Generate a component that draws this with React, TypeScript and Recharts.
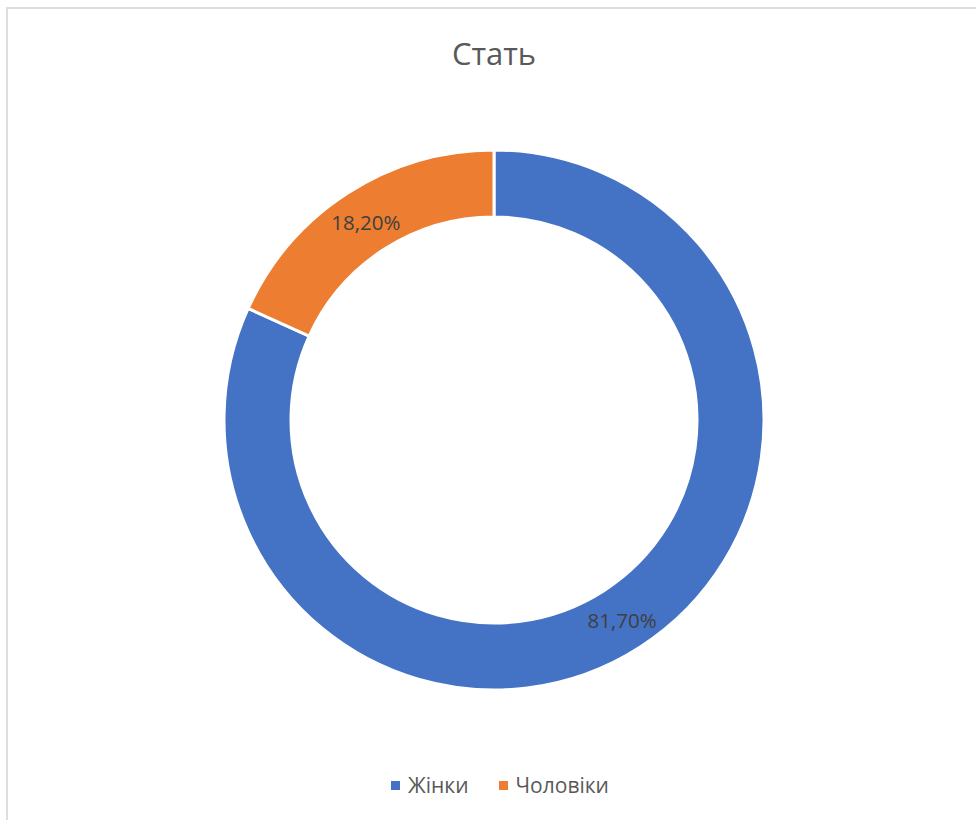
import React from 'react';
import { PieChart, Pie, Cell } from 'recharts';

const categories = ['Жінки', 'Чоловіки'];
const shares = [81.7, 18.2];
const colors = ['#4472C4', '#ED7D31'];

const data = categories.map((name, i) => ({ name, value: shares[i] }));

const FONT = '"Open Sans", "Noto Sans", sans-serif';
const RAD = Math.PI / 180;

const renderLabel = (props: any) => {
  const { cx, cy, midAngle, innerRadius, outerRadius, value } = props;
  const r = (innerRadius + outerRadius) / 2;
  const x = cx + r * Math.cos(-midAngle * RAD);
  const y = cy + r * Math.sin(-midAngle * RAD);
  return (
    <text
      x={x}
      y={y + 1}
      fill="#404040"
      fontSize={20.5}
      fontFamily={FONT}
      textAnchor="middle"
      dominantBaseline="central"
    >
      {value.toFixed(2).replace('.', ',')}%
    </text>
  );
};

const App: React.FC = () => {
  return (
    <div style={{ position: 'relative', width: 976, height: 820, overflow: 'hidden', background: '#fff' }}>
      <style>{'html,body{margin:0;padding:0;overflow:hidden;}'}</style>
      <div style={{ position: 'absolute', left: 0, top: 0, width: 976, height: 820 }}>
        <PieChart width={976} height={820} margin={{ top: 0, right: 0, bottom: 0, left: 0 }}>
          <Pie
            data={data}
            dataKey="value"
            nameKey="name"
            cx={494}
            cy={420}
            innerRadius={203}
            outerRadius={270}
            startAngle={90}
            endAngle={-270}
            stroke="#ffffff"
            strokeWidth={3}
            label={renderLabel}
            labelLine={false}
            isAnimationActive={false}
          >
            {data.map((d, i) => (
              <Cell key={d.name} fill={colors[i]} />
            ))}
          </Pie>
        </PieChart>
      </div>
      <div
        style={{
          position: 'absolute',
          left: 0,
          top: 32,
          width: 988,
          textAlign: 'center',
          fontFamily: FONT,
          fontSize: 31,
          color: '#595959',
          lineHeight: '42px',
        }}
      >
        Стать
      </div>
      <div
        style={{
          position: 'absolute',
          left: 0,
          top: 770,
          width: 1000,
          display: 'flex',
          justifyContent: 'center',
          alignItems: 'center',
          fontFamily: FONT,
          fontSize: 21,
          lineHeight: '30px',
          color: '#595959',
        }}
      >
        {categories.map((c, i) => (
          <div key={c} style={{ display: 'flex', alignItems: 'center', marginRight: i === 0 ? 30 : 0 }}>
            <span style={{ display: 'inline-block', width: 9, height: 9, background: colors[i], marginRight: 8 }} />
            <span>{c}</span>
          </div>
        ))}
      </div>
      <div
        style={{
          position: 'absolute',
          left: 6,
          top: 7,
          width: 970,
          height: 813,
          boxSizing: 'border-box',
          borderTop: '2px solid #dedede',
          borderLeft: '2px solid #dedede',
          pointerEvents: 'none',
        }}
      />
    </div>
  );
};

export default App;
